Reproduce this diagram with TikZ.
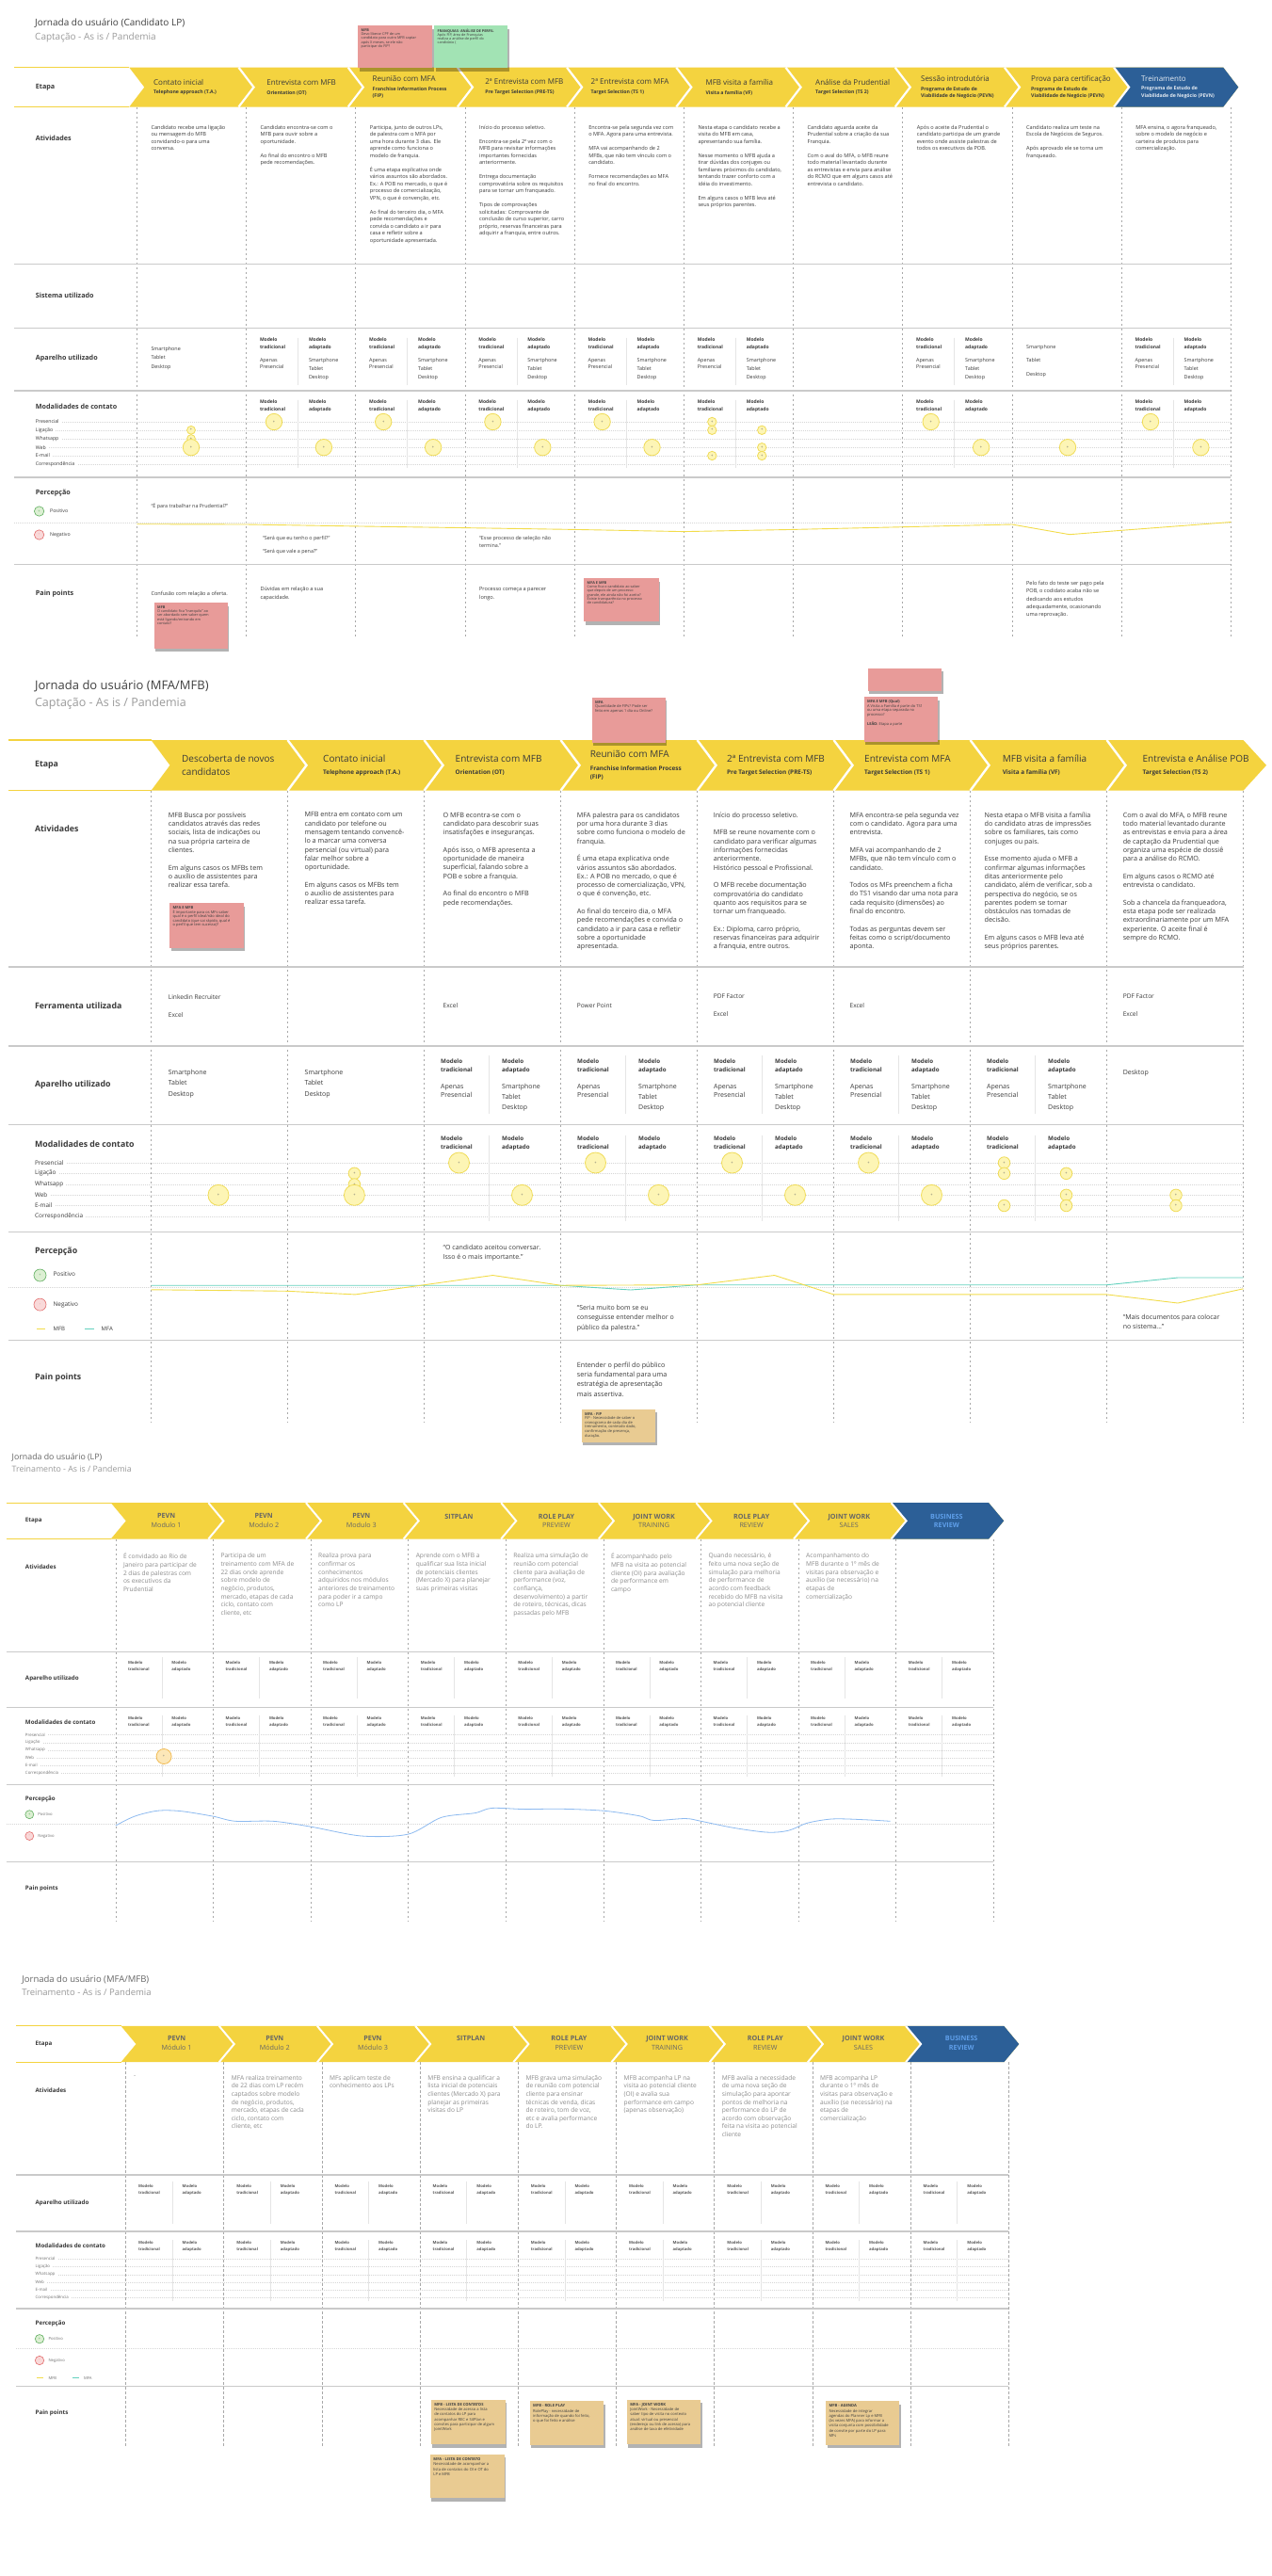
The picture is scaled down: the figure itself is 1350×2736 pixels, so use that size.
\documentclass[tikz,border=0pt]{standalone}
\usepackage{fontspec}
\setmainfont{Open Sans}
\usetikzlibrary{shadows}
\newcommand{\fsz}[2]{\fontsize{#1}{#2}\selectfont}
\definecolor{ybd}{HTML}{F4D33F}
\definecolor{bbd}{HTML}{2C5F97}
\definecolor{rowc}{HTML}{CACACA}
\definecolor{divc}{HTML}{A8A8A8}
\definecolor{txd}{HTML}{3A3A3A}
\definecolor{txg}{HTML}{8C8C8C}
\definecolor{ttg}{HTML}{9B9B9B}
\definecolor{chg}{HTML}{666666}
\definecolor{cfill}{HTML}{FDF5B5}
\definecolor{cdraw}{HTML}{F0DC58}
\definecolor{pinkn}{HTML}{E89B99}
\definecolor{greenn}{HTML}{A2E3B4}
\definecolor{tann}{HTML}{E9CB92}
\definecolor{tealc}{HTML}{63D1BE}
\definecolor{ylc}{HTML}{F2DC4A}
\definecolor{bluec}{HTML}{8DBAF0}
\definecolor{posf}{HTML}{DCEFD3}
\definecolor{posd}{HTML}{5FAE5F}
\definecolor{negf}{HTML}{F9D9D9}
\definecolor{negd}{HTML}{E26B6B}
\definecolor{ltblue}{HTML}{5F9FEA}
\definecolor{orf}{HTML}{FCE7B8}
\definecolor{ord}{HTML}{F2BC55}
\tikzset{
  txt/.style={anchor=north west, inner sep=0pt, align=left, text=txd},
  lbl/.style={anchor=west, inner sep=0pt, text=txd},
  rowline/.style={draw=rowc, line width=1.3pt},
  divline/.style={draw=divc, line width=0.6pt, dash pattern=on 2.5pt off 2.5pt},
  subsep/.style={draw=black!10, line width=0.5pt},
  dotline/.style={draw=black!16, line width=0.4pt, dash pattern=on 1pt off 1pt},
  circ/.style={circle, draw=cdraw, fill=cfill, line width=0.8pt, inner sep=0pt, text=black!60, font=\fsz{4}{4}},
  posi/.style={circle, draw=posd, fill=posf, line width=0.6pt, inner sep=0pt, text=posd, font=\fsz{4}{4}},
  negi/.style={circle, draw=negd, fill=negf, line width=0.6pt, inner sep=0pt, text=negd, font=\fsz{4}{4}},
  notebox/.style={anchor=north west, inner sep=0pt, drop shadow={shadow xshift=1.5pt, shadow yshift=-3.5pt, opacity=0.3, fill=black}},
  notetext/.style={anchor=north west, inner sep=0pt, align=left, text=black!75},
}
\newcommand{\snote}[8]{%
  \node[notebox, fill=#5, minimum width=#3pt, minimum height=#4pt] (#6) at (#1,#2) {};
  \node[notetext, font=#7] (#6t) at ([xshift=3.5pt,yshift=-3.5pt]#6.north west) {#8};}
\begin{document}
\begin{tikzpicture}[x=1pt,y=-1pt]
\path[use as bounding box, fill=white] (0,0) rectangle (1350,2736);

%% ================= SECTION 1 =================
\node[lbl, font=\fsz{10}{12}, text=black!75] (s1t) at (37,25) {Jornada do usuário (Candidato LP)};
\node[lbl, font=\fsz{10}{12}, text=ttg] (s1st) at (37,39.6) {Captação - As is / Pandemia};
\foreach \d in {145.3,261.5,377.7,493.9,610.1,726.3,842.5,958.7,1074.9,1191.1,1307.3}
  \draw[divline] (\d,113.5) -- (\d,675.5);
\foreach \y in {280.3,348.5,415,507,599.3}
  \draw[rowline] (15.2,\y) -- (1307.3,\y);
\draw[dotline] (15.2,555.3) -- (1307.3,555.3);
% band
\draw[ybd, line width=1.2pt] (15.2,71.7) -- (137.3,71.7) (15.2,113.5) -- (137.3,113.5);
\fill[ybd] (137.3,71.7) -- (1299.3,71.7) -- (1315.3,92.6) -- (1299.3,113.5) -- (137.3,113.5) -- (153.3,92.6) -- cycle;
\fill[bbd] (1183.1,71.7) -- (1299.3,71.7) -- (1315.3,92.6) -- (1299.3,113.5) -- (1183.1,113.5) -- (1199.1,92.6) -- cycle;
\foreach \d in {261.5,377.7,493.9,610.1,726.3,842.5,958.7,1074.9,1191.1}
  \draw[white, line width=2.2pt] ({\d-8},71.7) -- ({\d+8},92.6) -- ({\d-8},113.5);
% row labels
\foreach \y/\t [count=\i] in {92.6/Etapa,146.5/Atividades,313.7/Sistema utilizado,381/Aparelho utilizado,431.7/Modalidades de contato,523.6/Percepção,630.6/Pain points}
  \node[lbl, font=\fsz{7.2}{8}\bfseries] (s1r\i) at (37.7,\y) {\t};
\foreach \y/\t [count=\i] in {448/Presencial,456.8/Ligação,466/Whatsapp,475.2/Web,484/E-mail,493.3/Correspondência}{
  \node[lbl, font=\fsz{5.2}{6}] (s1m\i) at (37.7,\y) {\t};
  \draw[dotline] ([xshift=3pt]s1m\i.east) -- (1307.3,\y);
}
\node[posi, minimum size=10.4pt] (s1pi) at (41.6,543) {+};
\node[lbl, font=\fsz{5.2}{6}] (s1pt) at (53,542.6) {Positivo};
\node[negi, minimum size=10.4pt] (s1ni) at (41.6,568) {-};
\node[lbl, font=\fsz{5.2}{6}] (s1nt) at (53,568) {Negativo};
% chevron labels
\node[lbl, align=left, font=\fsz{5.2}{9.9}\bfseries] (s1h1) at (163,92.6) {{\fsz{8}{9.9}\mdseries Contato inicial}\\Telephone approach (T.A.)};
\node[lbl, align=left, font=\fsz{5.2}{9.9}\bfseries] (s1h2) at (283.2,92.6) {{\fsz{8}{9.9}\mdseries Entrevista com MFB}\\Orientation (OT)};
\node[lbl, align=left, font=\fsz{5.2}{9.9}\bfseries] (s1h3) at (395.5,92.6) {{\fsz{8}{9.9}\mdseries Reunião com MFA}\\Franchise Information Process\\[-2.1pt](FIP)};
\node[lbl, align=left, font=\fsz{5.2}{9.9}\bfseries] (s1h4) at (515.2,92.6) {{\fsz{8}{9.9}\mdseries 2ª Entrevista com MFB}\\Pre Target Selection (PRE-TS)};
\node[lbl, align=left, font=\fsz{5.2}{9.9}\bfseries] (s1h5) at (627.5,92.6) {{\fsz{8}{9.9}\mdseries 2ª Entrevista com MFA}\\Target Selection (TS 1)};
\node[lbl, align=left, font=\fsz{5.2}{9.9}\bfseries] (s1h6) at (749.4,92.6) {{\fsz{8}{9.9}\mdseries MFB visita a família}\\Visita a família (VF)};
\node[lbl, align=left, font=\fsz{5.2}{9.9}\bfseries] (s1h7) at (866,92.6) {{\fsz{8}{9.9}\mdseries Análise da Prudential}\\Target Selection (TS 2)};
\node[lbl, align=left, font=\fsz{5.2}{9.9}\bfseries] (s1h8) at (977.9,92.6) {{\fsz{8}{9.9}\mdseries Sessão introdutória}\\Programa de Estudo de\\[-2.1pt]Viabilidade de Negócio (PEVN)};
\node[lbl, align=left, font=\fsz{5.2}{9.9}\bfseries] (s1h9) at (1095,92.6) {{\fsz{8}{9.9}\mdseries Prova para certificação}\\Programa de Estudo de\\[-2.1pt]Viabilidade de Negócio (PEVN)};
\node[lbl, align=left, font=\fsz{5.2}{9.9}\bfseries, text=white!88!bbd] (s1h10) at (1212,92.6) {{\fsz{8}{9.9}\mdseries Treinamento}\\Programa de Estudo de\\[-2.1pt]Viabilidade de Negócio (PEVN)};
% activities
\node[txt, font=\fsz{5.6}{7.5}] (s1a1) at (160.3,132.7) {Candidato recebe uma ligação\\ou mensagem do MFB\\convidando-o para uma\\conversa.};
\node[txt, font=\fsz{5.6}{7.5}] (s1a2) at (276.5,132.7) {Candidato encontra-se com o\\MFB para ouvir sobre a\\oportunidade.\\[7.5pt]Ao final do encontro o MFB\\pede recomendações.};
\node[txt, font=\fsz{5.6}{7.5}] (s1a3) at (392.7,132.7) {Participa, junto de outros LPs,\\de palestra com o MFA por\\uma hora durante 3 dias. Ele\\aprende como funciona o\\modelo de franquia.\\[7.5pt]É uma etapa explicativa onde\\vários assuntos são abordados.\\Ex.: A POB no mercado, o que é\\processo de comercialização,\\VPN, o que é convenção, etc.\\[7.5pt]Ao final do terceiro dia, o MFA\\pede recomendações e\\convida o candidato a ir para\\casa e refletir sobre a\\oportunidade apresentada.};
\node[txt, font=\fsz{5.6}{7.5}] (s1a4) at (508.9,132.7) {Início do processo seletivo.\\[7.5pt]Encontra-se pela 2ª vez com o\\MFB para revisitar informações\\importantes fornecidas\\anteriormente.\\[7.5pt]Entrega documentação\\comprovatória sobre os requisitos\\para se tornar um franqueado.\\[7.5pt]Tipos de comprovações\\solicitadas: Comprovante de\\conclusão de curso superior, carro\\próprio, reservas financeiras para\\adquirir a franquia, entre outros.};
\node[txt, font=\fsz{5.6}{7.5}] (s1a5) at (625.1,132.7) {Encontra-se pela segunda vez com\\o MFA. Agora para uma entrevista.\\[7.5pt]MFA vai acompanhando de 2\\MFBs, que não tem vínculo com o\\candidato.\\[7.5pt]Fornece recomendações ao MFA\\no final do encontro.};
\node[txt, font=\fsz{5.6}{7.5}] (s1a6) at (741.3,132.7) {Nesta etapa o candidato recebe a\\visita do MFB em casa,\\apresentando sua família.\\[7.5pt]Nesse momento o MFB ajuda a\\tirar dúvidas dos conjuges ou\\familiares próximos do candidato,\\tentando trazer conforto com a\\idéia do investimento.\\[7.5pt]Em alguns casos o MFB leva até\\seus próprios parentes.};
\node[txt, font=\fsz{5.6}{7.5}] (s1a7) at (857.5,132.7) {Candidato aguarda aceite da\\Prudential sobre a criação da sua\\Franquia.\\[7.5pt]Com o aval do MFA, o MFB reune\\todo material levantado durante\\as entrevistas e envia para análise\\do RCMO que em alguns casos até\\entrevista o candidato.};
\node[txt, font=\fsz{5.6}{7.5}] (s1a8) at (973.7,132.7) {Após o aceite da Prudential o\\candidato participa de um grande\\evento onde assiste palestras de\\todos os executivos da POB.};
\node[txt, font=\fsz{5.6}{7.5}] (s1a9) at (1089.9,132.7) {Candidato realiza um teste na\\Escola de Negócios de Seguros.\\[7.5pt]Após aprovado ele se torna um\\franqueado.};
\node[txt, font=\fsz{5.6}{7.5}] (s1a10) at (1206.1,132.7) {MFA ensina, o agora franqueado,\\sobre o modelo de negócio e\\carteira de produtos para\\comercialização.};
% devices
\node[txt, font=\fsz{5.4}{9.2}] (s1d0) at (160.3,368.3) {Smartphone\\Tablet\\Desktop};
\node[txt, font=\fsz{5.4}{14.3}] (s1d8) at (1089.9,366.1) {Smartphone\\Tablet\\Desktop};
\foreach \d [count=\i] in {261.5,377.7,493.9,610.1,726.3,958.7,1191.1}{
  \draw[subsep] ({\d+55},358.6) -- ({\d+55},409);
  \draw[subsep] ({\d+55},424.6) -- ({\d+55},497);
  \node[txt, font=\fsz{5}{7.7}\bfseries] (s1at\i) at ({\d+14.3},358.5) {Modelo\\tradicional};
  \node[txt, font=\fsz{5}{7.7}\bfseries] (s1aa\i) at ({\d+66.3},358.5) {Modelo\\adaptado};
  \node[txt, font=\fsz{5.4}{7.5}] (s1atc\i) at ({\d+14.3},380.3) {Apenas\\Presencial};
  \node[txt, font=\fsz{5.4}{9.1}] (s1aac\i) at ({\d+66.3},380.3) {Smartphone\\Tablet\\Desktop};
  \node[txt, font=\fsz{5}{7.7}\bfseries] (s1mt\i) at ({\d+14.3},424.5) {Modelo\\tradicional};
  \node[txt, font=\fsz{5}{7.7}\bfseries] (s1ma\i) at ({\d+66.3},424.5) {Modelo\\adaptado};
}
% contact circles
\node[circ, minimum size=8.8pt] (s1c1) at (203,456.8) {+};
\node[circ, minimum size=8.8pt] (s1c2) at (203,466) {+};
\node[circ, minimum size=17.4pt] (s1c3) at (203,475.2) {+};
\foreach \xt/\xa [count=\i] in {291/343.9,407.2/460.1,523.4/576.3,639.6/692.5,988.7/1042.1,1222/1275.4}{
  \node[circ, minimum size=17.4pt] (s1ct\i) at (\xt,448) {+};
  \node[circ, minimum size=17.4pt] (s1ca\i) at (\xa,475.2) {+};
}
\node[circ, minimum size=9.4pt] (s1v1) at (756.3,448) {+};
\node[circ, minimum size=9.4pt] (s1v2) at (756.3,456.8) {+};
\node[circ, minimum size=9.4pt] (s1v3) at (756.3,484) {+};
\node[circ, minimum size=9.4pt] (s1v4) at (809.2,456.8) {+};
\node[circ, minimum size=9.4pt] (s1v5) at (809.2,475.2) {+};
\node[circ, minimum size=9.4pt] (s1v6) at (809.2,484) {+};
\node[circ, minimum size=17.4pt] (s1p9) at (1134,475.2) {+};
% perception
\draw[ylc, line width=0.9pt] (145.3,556.7) -- (261.5,557) -- (377.7,558.9) -- (493.9,560.6) -- (610.1,562.4) -- (726.3,564.6) -- (842.5,562.4) -- (958.7,559.7) -- (1074.9,557) -- (1136,567.7) -- (1191.1,563.3) -- (1307.3,554.5);
\node[lbl, font=\fsz{5.4}{8}] (s1q1) at (160.3,538) {“É para trabalhar na Prudential?”};
\node[lbl, font=\fsz{5.4}{8}] (s1q2) at (278.8,572) {“Será que eu tenho o perfil?”};
\node[lbl, font=\fsz{5.4}{8}] (s1q3) at (278.8,586) {“Será que vale a pena?”};
\node[txt, font=\fsz{5.4}{8}] (s1q4) at (508.9,569.3) {“Esse processo de seleção não\\termina.”};
% pain points
\node[lbl, font=\fsz{5.6}{8.8}] (s1pp1) at (160.3,630.6) {Confusão com relação a oferta.};
\node[txt, font=\fsz{5.6}{8.8}] (s1pp2) at (276.5,623.4) {Dúvidas em relação a sua\\capacidade.};
\node[txt, font=\fsz{5.6}{8.8}] (s1pp4) at (508.9,623.4) {Processo começa a parecer\\longo.};
\node[txt, font=\fsz{5.6}{8.4}] (s1pp9) at (1089.9,616.8) {Pelo fato do teste ser pago pela\\POB, o codidato acaba não se\\dedicando aos estudos\\adequadamente, ocasionando\\uma reprovação.};
% notes
\snote{380}{27}{79}{45}{pinkn}{n11}{\fsz{3.8}{4.2}}{\textbf{MFB}\\Devo liberar CPF de um\\candidato para outro MFB captar\\após X meses, se ele não\\participar do FIP?}
\snote{461}{27}{78}{45}{greenn}{n12}{\fsz{3.8}{4.2}}{\textbf{FRANQUIAS- ANÁLISE DE PERFIL}\\Após FIP, área de Franquias\\realiza a análise de perfil do\\candidato (}
\snote{163.5}{640}{78}{48.7}{pinkn}{n13}{\fsz{3.8}{4.2}}{\textbf{MFB}\\O candidato fica "tranquilo" ao\\ser abordado sem saber quem\\está ligando/entrando em\\contato?}
\snote{620}{614}{79.5}{46}{pinkn}{n14}{\fsz{3.8}{4.2}}{\textbf{MFA E MFB}\\Como fica o candidato ao saber\\que depois de um processo\\grande, ele ainda não foi aceito?\\Existe transparência no processo\\de candidatura?}

%% ================= SECTION 2 =================
\node[lbl, font=\fsz{13}{15}, text=black!75] (s2t) at (36.9,728.5) {Jornada do usuário (MFA/MFB)};
\node[lbl, font=\fsz{12.5}{15}, text=ttg] (s2st) at (36.9,746.8) {Captação - As is / Pandemia};
\foreach \d in {160.5,305.5,450.5,595.5,740.5,885.5,1030.5,1175.5,1320.5}
  \draw[divline] (\d,839.7) -- (\d,1511);
\foreach \y in {1027,1111,1194.3,1308.6,1423.4}
  \draw[rowline] (8.7,\y) -- (1320.5,\y);
\draw[dotline] (8.7,1367.2) -- (1320.5,1367.2);
\draw[ybd, line width=1.2pt] (8.7,786) -- (160.5,786) (8.7,839.7) -- (160.5,839.7);
\fill[ybd] (160.5,786) -- (1320.5,786) -- (1345,812.8) -- (1320.5,839.7) -- (160.5,839.7) -- (180.5,812.8) -- cycle;
\foreach \d in {305.5,450.5,595.5,740.5,885.5,1030.5,1175.5}
  \draw[white, line width=2.4pt] (\d,786) -- ({\d+20},812.8) -- (\d,839.7);
\foreach \y/\t [count=\i] in {812.7/Etapa,880.5/Atividades,1068.3/Ferramenta utilizada,1152/Aparelho utilizado,1215.2/Modalidades de contato,1329.5/Percepção,1463.2/Pain points}
  \node[lbl, font=\fsz{8.8}{10}\bfseries] (s2r\i) at (36.9,\y) {\t};
\foreach \y/\t [count=\i] in {1235/Presencial,1246.3/Ligação,1258/Whatsapp,1269.3/Web,1280.5/E-mail,1291.7/Correspondência}{
  \node[lbl, font=\fsz{6.4}{7}] (s2m\i) at (36.9,\y) {\t};
  \draw[dotline] ([xshift=3pt]s2m\i.east) -- (1320.5,\y);
}
\node[posi, minimum size=13pt] (s2pi) at (42.5,1354.5) {+};
\node[lbl, font=\fsz{6.4}{7}] (s2pt) at (56.4,1353.5) {Positivo};
\node[negi, minimum size=13pt] (s2ni) at (42.5,1385.6) {-};
\node[lbl, font=\fsz{6.4}{7}] (s2nt) at (56.4,1385.6) {Negativo};
\draw[ylc, line width=1pt] (39,1411) -- (47.7,1411);
\node[lbl, font=\fsz{6}{7}] (s2l1) at (56.4,1411) {MFB};
\draw[tealc, line width=1pt] (90,1411) -- (99.7,1411);
\node[lbl, font=\fsz{6}{7}] (s2l2) at (107.5,1411) {MFA};
% chevron labels
\node[lbl, align=left, font=\fsz{10}{13.3}] (s2h1) at (193,812.8) {Descoberta de novos\\candidatos};
\node[lbl, align=left, font=\fsz{6.4}{13.3}\bfseries] (s2h2) at (343,812.8) {{\fsz{10}{13.3}\mdseries Contato inicial}\\Telephone approach (T.A.)};
\node[lbl, align=left, font=\fsz{6.4}{13.3}\bfseries] (s2h3) at (483.5,812.8) {{\fsz{10}{13.3}\mdseries Entrevista com MFB}\\Orientation (OT)};
\node[lbl, align=left, font=\fsz{6.4}{13.3}\bfseries] (s2h4) at (626.6,812.8) {{\fsz{10}{13.3}\mdseries Reunião com MFA}\\Franchise Information Process\\[-4.1pt](FIP)};
\node[lbl, align=left, font=\fsz{6.4}{13.3}\bfseries] (s2h5) at (772,812.8) {{\fsz{10}{13.3}\mdseries 2ª Entrevista com MFB}\\Pre Target Selection (PRE-TS)};
\node[lbl, align=left, font=\fsz{6.4}{13.3}\bfseries] (s2h6) at (918,812.8) {{\fsz{10}{13.3}\mdseries Entrevista com MFA}\\Target Selection (TS 1)};
\node[lbl, align=left, font=\fsz{6.4}{13.3}\bfseries] (s2h7) at (1064.6,812.8) {{\fsz{10}{13.3}\mdseries MFB visita a família}\\Visita a família (VF)};
\node[lbl, align=left, font=\fsz{6.4}{13.3}\bfseries] (s2h8) at (1213.4,812.8) {{\fsz{10}{13.3}\mdseries Entrevista e Análise POB}\\Target Selection (TS 2)};
% activities
\node[txt, font=\fsz{7.2}{9.3}] (s2a1) at (178.7,862.6) {MFB Busca por possíveis\\candidatos através das redes\\sociais, lista de indicações ou\\na sua própria carteira de\\clientes.\\[9.3pt]Em alguns casos os MFBs tem\\o auxílio de assistentes para\\realizar essa tarefa.};
\node[txt, font=\fsz{7.2}{9.3}] (s2a2) at (323.5,862.6) {MFB entra em contato com um\\candidato por telefone ou\\mensagem tentando convencê-\\lo a marcar uma conversa\\persencial (ou virtual) para\\falar melhor sobre a\\oportunidade.\\[9.3pt]Em alguns casos os MFBs tem\\o auxílio de assistentes para\\realizar essa tarefa.};
\node[txt, font=\fsz{7.2}{9.3}] (s2a3) at (470.5,862.6) {O MFB econtra-se com o\\candidato para descobrir suas\\insatisfações e inseguranças.\\[9.3pt]Após isso, o MFB apresenta a\\oportunidade de maneira\\superficial, falando sobre a\\POB e sobre a franquia.\\[9.3pt]Ao final do encontro o MFB\\pede recomendações.};
\node[txt, font=\fsz{7.2}{9.3}] (s2a4) at (612.7,862.6) {MFA palestra para os candidatos\\por uma hora durante 3 dias\\sobre como funciona o modelo de\\franquia.\\[9.3pt]É uma etapa explicativa onde\\vários assuntos são abordados.\\Ex.: A POB no mercado, o que é\\processo de comercialização, VPN,\\o que é convenção, etc.\\[9.3pt]Ao final do terceiro dia, o MFA\\pede recomendações e convida o\\candidato a ir para casa e refletir\\sobre a oportunidade\\apresentada.};
\node[txt, font=\fsz{7.2}{9.3}] (s2a5) at (757.6,862.6) {Início do processo seletivo.\\[9.3pt]MFB se reune novamente com o\\candidato para verificar algumas\\informações fornecidas\\anteriormente.\\Histórico pessoal e Profissional.\\[9.3pt]O MFB recebe documentação\\comprovatória do candidato\\quanto aos requisitos para se\\tornar um franqueado.\\[9.3pt]Ex.: Diploma, carro próprio,\\reservas financeiras para adquirir\\a franquia, entre outros.};
\node[txt, font=\fsz{7.2}{9.3}] (s2a6) at (902.4,862.6) {MFA encontra-se pela segunda vez\\com o candidato. Agora para uma\\entrevista.\\[9.3pt]MFA vai acompanhando de 2\\MFBs, que não tem vínculo com o\\candidato.\\[9.3pt]Todos os MFs preenchem a ficha\\do TS1 visando dar uma nota para\\cada requisito (dimensões) ao\\final do encontro.\\[9.3pt]Todas as perguntas devem ser\\feitas como o script/documento\\aponta.};
\node[txt, font=\fsz{7.2}{9.3}] (s2a7) at (1045.5,862.6) {Nesta etapa o MFB visita a família\\do candidato atras de impressões\\sobre os familiares, tais como\\conjuges ou pais.\\[9.3pt]Esse momento ajuda o MFB a\\confirmar algumas informações\\ditas anteriormente pelo\\candidato, além de verificar, sob a\\perspectiva do negócio, se os\\parentes podem se tornar\\obstáculos nas tomadas de\\decisão.\\[9.3pt]Em alguns casos o MFB leva até\\seus próprios parentes.};
\node[txt, font=\fsz{7.2}{9.3}] (s2a8) at (1192.6,862.6) {Com o aval do MFA, o MFB reune\\todo material levantado durante\\as entrevistas e envia para a área\\de captação da Prudential que\\organiza uma espécie de dossiê\\para a análise do RCMO.\\[9.3pt]Em alguns casos o RCMO até\\entrevista o candidato.\\[9.3pt]Sob a chancela da franqueadora,\\esta etapa pode ser realizada\\extraordinariamente por um MFA\\experiente. O aceite final é\\sempre do RCMO.};
% tools
\node[lbl, font=\fsz{6.6}{8}] (s2f1) at (178.7,1059) {Linkedin Recruiter};
\node[lbl, font=\fsz{6.6}{8}] (s2f2) at (178.7,1078.5) {Excel};
\node[lbl, font=\fsz{6.6}{8}] (s2f3) at (470.5,1068.3) {Excel};
\node[lbl, font=\fsz{6.6}{8}] (s2f4) at (612.7,1068.3) {Power Point};
\node[lbl, font=\fsz{6.6}{8}] (s2f5) at (757.6,1058) {PDF Factor};
\node[lbl, font=\fsz{6.6}{8}] (s2f6) at (757.6,1077.5) {Excel};
\node[lbl, font=\fsz{6.6}{8}] (s2f7) at (902.4,1068.3) {Excel};
\node[lbl, font=\fsz{6.6}{8}] (s2f8) at (1192.6,1058) {PDF Factor};
\node[lbl, font=\fsz{6.6}{8}] (s2f9) at (1192.6,1077.5) {Excel};
% devices
\node[txt, font=\fsz{7}{11.2}] (s2d1) at (178.7,1136.2) {Smartphone\\Tablet\\Desktop};
\node[txt, font=\fsz{7}{11.2}] (s2d2) at (323.5,1136.2) {Smartphone\\Tablet\\Desktop};
\node[lbl, font=\fsz{7}{11.2}] (s2d8) at (1192.6,1139.7) {Desktop};
\foreach \d [count=\i] in {450.5,595.5,740.5,885.5,1030.5}{
  \draw[subsep] ({\d+69},1121) -- ({\d+69},1182.6);
  \draw[subsep] ({\d+69},1205.5) -- ({\d+69},1297);
  \node[txt, font=\fsz{6.2}{9.2}\bfseries] (s2at\i) at ({\d+17.5},1124.3) {Modelo\\tradicional};
  \node[txt, font=\fsz{6.2}{9.2}\bfseries] (s2aa\i) at ({\d+82.5},1124.3) {Modelo\\adaptado};
  \node[txt, font=\fsz{7}{9.2}] (s2atc\i) at ({\d+17.5},1151) {Apenas\\Presencial};
  \node[txt, font=\fsz{7}{11.2}] (s2aac\i) at ({\d+82.5},1151) {Smartphone\\Tablet\\Desktop};
  \node[txt, font=\fsz{6.2}{9.2}\bfseries] (s2mt\i) at ({\d+17.5},1206.5) {Modelo\\tradicional};
  \node[txt, font=\fsz{6.2}{9.2}\bfseries] (s2ma\i) at ({\d+82.5},1206.5) {Modelo\\adaptado};
}
% circles
\node[circ, minimum size=22pt] (s2c1) at (232,1269.3) {+};
\node[circ, minimum size=12.5pt] (s2c2) at (376.4,1246.3) {+};
\node[circ, minimum size=12.5pt] (s2c3) at (376.4,1258) {+};
\node[circ, minimum size=22pt] (s2c4) at (376.4,1269.3) {+};
\foreach \d [count=\i] in {450.5,595.5,740.5,885.5}{
  \node[circ, minimum size=22pt] (s2ct\i) at ({\d+37},1235) {+};
  \node[circ, minimum size=22pt] (s2ca\i) at ({\d+104},1269.3) {+};
}
\node[circ, minimum size=12.5pt] (s2v1) at (1066.5,1235) {+};
\node[circ, minimum size=12.5pt] (s2v2) at (1066.5,1246.3) {+};
\node[circ, minimum size=12.5pt] (s2v3) at (1066.5,1280.5) {+};
\node[circ, minimum size=12.5pt] (s2v4) at (1132.5,1246.3) {+};
\node[circ, minimum size=12.5pt] (s2v5) at (1132.5,1269.3) {+};
\node[circ, minimum size=12.5pt] (s2v6) at (1132.5,1280.5) {+};
\node[circ, minimum size=12.5pt] (s2v7) at (1249,1269.3) {+};
\node[circ, minimum size=12.5pt] (s2v8) at (1249,1280.5) {+};
% perception
\draw[tealc, line width=0.9pt] (160.5,1365.2) -- (595.5,1365.2) -- (670,1370) -- (740.5,1364.7) -- (1175.5,1364.7) -- (1251,1357) -- (1320.5,1357);
\draw[ylc, line width=0.9pt] (160.5,1369.8) -- (305.5,1371.3) -- (377.3,1374.9) -- (450.5,1364.7) -- (523.4,1354.5) -- (595.5,1365.2) -- (740.5,1364.7) -- (822.6,1354.5) -- (885.5,1374.9) -- (1175.5,1374.9) -- (1251,1384) -- (1320.5,1368.8);
\node[txt, font=\fsz{7}{10.2}] (s2q1) at (470.5,1321.9) {“O candidato aceitou conversar.\\Isso é o mais importante.”};
\node[txt, font=\fsz{7}{10.4}] (s2q2) at (612.7,1385.7) {“Seria muito bom se eu\\conseguisse entender melhor o\\público da palestra.”};
\node[txt, font=\fsz{7}{10.4}] (s2q3) at (1192.6,1395.9) {“Mais documentos para colocar\\no sistema...”};
\node[txt, font=\fsz{7.2}{10.3}] (s2pp4) at (612.7,1446.4) {Entender o perfil do público\\seria fundamental para uma\\estratégia de apresentação\\mais assertiva.};
% notes
\snote{628.3}{740.7}{78.4}{47.6}{pinkn}{n21}{\fsz{4}{4.6}}{\textbf{MFA}\\Quantidade de FIPs? Pode ser\\feito em apenas 1 dia ou Online?}
\snote{921.7}{709.3}{78.3}{24}{pinkn}{n22}{\fsz{4}{4.6}}{}
\snote{917.3}{740}{78.7}{47.3}{pinkn}{n23}{\fsz{4}{4.6}}{\textbf{MFA E MFB (Qual)}\\A Visita a Família é parte do TS1\\ou uma etapa separada no\\processo?\\[4.6pt]\textbf{LEÃO:} Etapa a parte}
\snote{180}{959}{78.5}{47.5}{pinkn}{n24}{\fsz{4}{4.6}}{\textbf{MFA E MFB}\\É importante para os MFs saber\\qual é o perfil ideal/não ideal do\\candidato (que sai rápido, qual é\\o perfil que tem sucesso)?}
\snote{617.4}{1496.5}{78.6}{35.2}{tann}{n25}{\fsz{4}{4.6}}{\textbf{MFA - FIP}\\FIP - Necessidade de saber o\\cronograma de cada dia de\\treinamento, conteúdo dado,\\confirmação de presença,\\duração.}

%% ================= SECTION 3 =================
\node[lbl, font=\fsz{8.8}{10}, text=black!60] (s3t) at (12.5,1547.5) {Jornada do usuário (LP)};
\node[lbl, font=\fsz{8.8}{10}, text=black!40] (s3st) at (12.5,1560.6) {Treinamento - As is / Pandemia};
\foreach \d in {122.8,226.4,330,433.6,537.2,640.8,744.4,848,951.6,1055.2}
  \draw[divline] (\d,1634.5) -- (\d,2041);
\foreach \y in {1754.4,1813.7,1895.5,1977.7}
  \draw[rowline] (6.7,\y) -- (1055.2,\y);
\draw[dotline] (6.7,1937.4) -- (1055.2,1937.4);
\draw[ybd, line width=1.2pt] (6.7,1596.2) -- (117.8,1596.2) (6.7,1634.5) -- (117.8,1634.5);
\fill[ybd] (117.8,1596.2) -- (1050.2,1596.2) -- (1066.2,1615.3) -- (1050.2,1634.5) -- (117.8,1634.5) -- (133.8,1615.3) -- cycle;
\fill[bbd] (946.6,1596.2) -- (1050.2,1596.2) -- (1066.2,1615.3) -- (1050.2,1634.5) -- (946.6,1634.5) -- (962.6,1615.3) -- cycle;
\foreach \d in {226.4,330,433.6,537.2,640.8,744.4,848,951.6}
  \draw[white, line width=2pt] ({\d-5},1596.2) -- ({\d+11},1615.3) -- ({\d-5},1634.5);
\foreach \y/\t [count=\i] in {1615.2/Etapa,1664.2/Atividades,1783.2/Aparelho utilizado,1828.7/Modalidades de contato,1910.5/Percepção,2005.4/Pain points}
  \node[lbl, font=\fsz{6.2}{7}\bfseries] (s3r\i) at (26.8,\y) {\t};
\foreach \y/\t [count=\i] in {1842.5/Presencial,1850.8/Ligação,1858.7/Whatsapp,1867/Web,1875/E-mail,1883.3/Correspondência}{
  \node[lbl, font=\fsz{4.4}{5}, text=black!55] (s3m\i) at (26.8,\y) {\t};
  \draw[dotline] ([xshift=3pt]s3m\i.east) -- (1055.2,\y);
}
\node[posi, minimum size=9pt] (s3pi) at (31.3,1927.2) {+};
\node[lbl, font=\fsz{4.2}{5}, text=black!55] (s3pt) at (40.2,1927.2) {Positivo};
\node[negi, minimum size=9pt] (s3ni) at (31.3,1950) {-};
\node[lbl, font=\fsz{4.2}{5}, text=black!55] (s3nt) at (40.2,1950) {Negativo};
\foreach \x/\a/\b [count=\i] in {176.6/PEVN/Modulo 1,280.2/PEVN/Modulo 2,383.8/PEVN/Modulo 3,487.4/SITPLAN/,591/ROLE PLAY/PREVIEW,694.6/JOINT WORK/TRAINING,798.2/ROLE PLAY/REVIEW,901.8/JOINT WORK/SALES}
  \node[anchor=north, align=center, inner sep=0pt, font=\fsz{7.2}{9.5}, text=chg] (s3h\i) at (\x,1607.6) {\textbf{\a}\\\b};
\node[anchor=north, align=center, inner sep=0pt, font=\fsz{7.2}{9.5}\bfseries, text=ltblue] (s3h9) at (1005.4,1607.6) {BUSINESS\\REVIEW};
\foreach \d [count=\i] in {122.8,226.4,330,433.6,537.2,640.8,744.4,848,951.6}{
  \draw[subsep] ({\d+49},1760) -- ({\d+49},1804);
  \draw[subsep] ({\d+49},1821.6) -- ({\d+49},1886.8);
  \node[txt, font=\fsz{4.2}{6.8}\bfseries, text=black!65] (s3at\i) at ({\d+13},1764.1) {Modelo\\tradicional};
  \node[txt, font=\fsz{4.2}{6.8}\bfseries, text=black!65] (s3aa\i) at ({\d+59.4},1764.1) {Modelo\\adaptado};
  \node[txt, font=\fsz{4.2}{6.8}\bfseries, text=black!65] (s3mt\i) at ({\d+13},1823.4) {Modelo\\tradicional};
  \node[txt, font=\fsz{4.2}{6.8}\bfseries, text=black!65] (s3ma\i) at ({\d+59.4},1823.4) {Modelo\\adaptado};
}
\node[circle, draw=ord, fill=orf, line width=0.8pt, inner sep=0pt, minimum size=16pt, font=\fsz{4}{4}, text=black!55] (s3c1) at (174.1,1865.5) {+};
\node[txt, font=\fsz{6.6}{8.7}, text=txg] (s3a1) at (130.8,1649.4) {É convidado ao Rio de\\Janeiro para participar de\\2 dias de palestras com\\os executivos da\\Prudential};
\node[txt, font=\fsz{6.6}{8.7}, text=txg] (s3a2) at (234.4,1649.4) {Participa de um\\treinamento com MFA de\\22 dias onde aprende\\sobre modelo de\\negócio, produtos,\\mercado, etapas de cada\\ciclo, contato com\\cliente, etc};
\node[txt, font=\fsz{6.6}{8.7}, text=txg] (s3a3) at (338,1649.4) {Realiza prova para\\confirmar os\\conhecimentos\\adquiridos nos módulos\\anteriores de treinamento\\para poder ir a campo\\como LP};
\node[txt, font=\fsz{6.6}{8.7}, text=txg] (s3a4) at (441.6,1649.4) {Aprende com o MFB a\\qualificar sua lista inicial\\de potenciais clientes\\(Mercado X) para planejar\\suas primeiras visitas};
\node[txt, font=\fsz{6.6}{8.7}, text=txg] (s3a5) at (545.2,1649.4) {Realiza uma simulação de\\reunião com potencial\\cliente para avaliação de\\performance (voz,\\confiança,\\desenvolvimento) a partir\\de roteiro, técnicas, dicas\\passadas pelo MFB};
\node[txt, font=\fsz{6.6}{8.7}, text=txg] (s3a6) at (648.8,1649.4) {É acompanhado pelo\\MFB na visita ao potencial\\cliente (OI) para avaliação\\de performance em\\campo};
\node[txt, font=\fsz{6.6}{8.7}, text=txg] (s3a7) at (752.4,1649.4) {Quando necessário, é\\feito uma nova seção de\\simulação para melhoria\\de performance de\\acordo com feedback\\recebido do MFB na visita\\ao potencial cliente};
\node[txt, font=\fsz{6.6}{8.7}, text=txg] (s3a8) at (856,1649.4) {Acompanhamento do\\MFB durante o 1º mês de\\visitas para observação e\\auxílio (se necessário) na\\etapas de\\comercialização};
\draw[bluec, line width=0.8pt] plot[smooth, tension=0.5] coordinates {(122.8,1939) (142.9,1929.1) (167.4,1923.2) (192,1923.6) (226.3,1929.1) (250,1934.3) (290.2,1934.3) (330.4,1940.2) (384,1950) (433.5,1948.1) (468.8,1930.3) (504.5,1925.6) (522.3,1920.4) (558,1921.6) (593.8,1921.2) (641,1923.2) (679,1928.7) (694.6,1933.5) (728,1931.5) (744.6,1934.3) (779.5,1941.4) (815.2,1946.1) (837.5,1944.2) (857.6,1936.2) (884.4,1931.9) (917.9,1932.7) (945.5,1934.3)};

%% ================= SECTION 4 =================
\node[lbl, font=\fsz{9.5}{11}, text=black!60] (s4t) at (23.2,2103.1) {Jornada do usuário (MFA/MFB)};
\node[lbl, font=\fsz{9.5}{11}, text=black!40] (s4st) at (23.2,2116) {Treinamento - As is / Pandemia};
\foreach \d in {133.5,237.7,341.9,446.1,550.3,654.5,758.7,862.9,967.1,1071.3}
  \draw[divline] (\d,2190.2) -- (\d,2598);
\foreach \y in {2310,2370,2451.9,2534.2}
  \draw[rowline] (17,\y) -- (1071.3,\y);
\draw[dotline] (17,2494.6) -- (1071.3,2494.6);
\draw[ybd, line width=1.2pt] (17,2151.8) -- (128.5,2151.8) (17,2190.2) -- (128.5,2190.2);
\fill[ybd] (128.5,2151.8) -- (1066.3,2151.8) -- (1082.3,2171) -- (1066.3,2190.2) -- (128.5,2190.2) -- (144.5,2171) -- cycle;
\fill[bbd] (962.1,2151.8) -- (1066.3,2151.8) -- (1082.3,2171) -- (1066.3,2190.2) -- (962.1,2190.2) -- (978.1,2171) -- cycle;
\foreach \d in {237.7,341.9,446.1,550.3,654.5,758.7,862.9,967.1}
  \draw[white, line width=2pt] ({\d-5},2151.8) -- ({\d+11},2171) -- ({\d-5},2190.2);
\foreach \y/\t [count=\i] in {2170.8/Etapa,2220/Atividades,2339.8/Aparelho utilizado,2385.5/Modalidades de contato,2467.4/Percepção,2563/Pain points}
  \node[lbl, font=\fsz{6.2}{7}\bfseries] (s4r\i) at (37.5,\y) {\t};
\foreach \y/\t [count=\i] in {2399.3/Presencial,2407.5/Ligação,2415.7/Whatsapp,2423.9/Web,2432/E-mail,2440.3/Correspondência}{
  \node[lbl, font=\fsz{4.4}{5}, text=black!55] (s4m\i) at (37.5,\y) {\t};
  \draw[dotline] ([xshift=3pt]s4m\i.east) -- (1071.3,\y);
}
\node[posi, minimum size=9.4pt] (s4pi) at (42,2484.2) {+};
\node[lbl, font=\fsz{4.2}{5}, text=black!55] (s4pt) at (51.3,2484.2) {Positivo};
\node[negi, minimum size=9.4pt] (s4ni) at (42,2507) {-};
\node[lbl, font=\fsz{4.2}{5}, text=black!55] (s4nt) at (51.3,2507) {Negativo};
\draw[ylc, line width=0.8pt] (39,2525.6) -- (46,2525.6);
\node[lbl, font=\fsz{4.2}{5}, text=black!55] (s4l1) at (51.3,2525.6) {MFB};
\draw[tealc, line width=0.8pt] (76.8,2525.6) -- (83.5,2525.6);
\node[lbl, font=\fsz{4.2}{5}, text=black!55] (s4l2) at (88.8,2525.6) {MFA};
\foreach \x/\a/\b [count=\i] in {187.6/PEVN/Módulo 1,291.8/PEVN/Módulo 2,396/PEVN/Módulo 3,500.2/SITPLAN/,604.4/ROLE PLAY/PREVIEW,708.6/JOINT WORK/TRAINING,812.8/ROLE PLAY/REVIEW,917/JOINT WORK/SALES}
  \node[anchor=north, align=center, inner sep=0pt, font=\fsz{7.2}{9.5}, text=chg] (s4h\i) at (\x,2162.4) {\textbf{\a}\\\b};
\node[anchor=north, align=center, inner sep=0pt, font=\fsz{7.2}{9.5}\bfseries, text=ltblue] (s4h9) at (1021.2,2162.4) {BUSINESS\\REVIEW};
\foreach \d [count=\i] in {133.5,237.7,341.9,446.1,550.3,654.5,758.7,862.9,967.1}{
  \draw[subsep] ({\d+49.5},2316.5) -- ({\d+49.5},2361.8);
  \draw[subsep] ({\d+49.5},2379) -- ({\d+49.5},2443.7);
  \node[txt, font=\fsz{4.2}{6.9}\bfseries, text=black!65] (s4at\i) at ({\d+13.4},2320.5) {Modelo\\tradicional};
  \node[txt, font=\fsz{4.2}{6.9}\bfseries, text=black!65] (s4aa\i) at ({\d+60},2320.5) {Modelo\\adaptado};
  \node[txt, font=\fsz{4.2}{6.9}\bfseries, text=black!65] (s4mt\i) at ({\d+13.4},2379.9) {Modelo\\tradicional};
  \node[txt, font=\fsz{4.2}{6.9}\bfseries, text=black!65] (s4ma\i) at ({\d+60},2379.9) {Modelo\\adaptado};
}
\node[txt, font=\fsz{6.6}{8.6}, text=txg] (s4a1) at (142,2204) {-};
\node[txt, font=\fsz{6.6}{8.6}, text=txg] (s4a2) at (245.7,2204) {MFA realiza treinamento\\de 22 dias com LP recém\\captados sobre modelo\\de negócio, produtos,\\mercado, etapas de cada\\ciclo, contato com\\cliente, etc};
\node[txt, font=\fsz{6.6}{8.6}, text=txg] (s4a3) at (349.9,2204) {MFs aplicam teste de\\conhecimento aos LPs};
\node[txt, font=\fsz{6.6}{8.6}, text=txg] (s4a4) at (454.1,2204) {MFB ensina a qualificar a\\lista inicial de potenciais\\clientes (Mercado X) para\\planejar as primeiras\\visitas do LP};
\node[txt, font=\fsz{6.6}{8.6}, text=txg] (s4a5) at (558.3,2204) {MFB grava uma simulação\\de reunião com potencial\\cliente para ensinar\\técnicas de venda, dicas\\de roteiro, tom de voz,\\etc e avalia performance\\do LP.};
\node[txt, font=\fsz{6.6}{8.6}, text=txg] (s4a6) at (662.5,2204) {MFB acompanha LP na\\visita ao potencial cliente\\(OI) e avalia sua\\performance em campo\\(apenas observação)};
\node[txt, font=\fsz{6.6}{8.6}, text=txg] (s4a7) at (766.7,2204) {MFB avalia a necessidade\\de uma nova seção de\\simulação para apontar\\pontos de melhoria na\\performance do LP de\\acordo com observação\\feita na visita ao potencial\\cliente};
\node[txt, font=\fsz{6.6}{8.6}, text=txg] (s4a8) at (870.9,2204) {MFB acompanha LP\\durante o 1º mês de\\visitas para observação e\\auxílio (se necessário) na\\etapas de\\comercialização};
% notes
\snote{457.6}{2548.5}{79}{47.5}{tann}{n41}{\fsz{4.1}{5.3}}{\textbf{MFB - LISTA DE CONTATOS}\\Necessidade de acesso a lista\\de contatos do LP para\\acompanhar REC e SitPlan e\\convites para participar de algum\\JointWork}
\snote{456.7}{2606.7}{78.6}{46.1}{tann}{n42}{\fsz{4.1}{5.3}}{\textbf{MFA - LISTA DE CONTATO}\\Necessidade de acompanhar a\\lista de contatos do OI e OT do\\LP e MFB}
\snote{562.5}{2550}{78.5}{46.7}{tann}{n43}{\fsz{4.1}{5.3}}{\textbf{MFB - ROLE PLAY}\\RolePlay - necessidade de\\informação de quando foi feito,\\o que foi feito e análise}
\snote{665.6}{2548.5}{78.2}{47.5}{tann}{n44}{\fsz{4.1}{5.3}}{\textbf{MFA - JOINT WORK}\\JointWork - Necessidade de\\saber tipo de visita no contexto\\atual: virtual ou presencial\\(endereço ou link de acesso) para\\análise de taxa de efetividade}
\snote{876.8}{2550}{78.2}{46.7}{tann}{n45}{\fsz{4.1}{5.3}}{\textbf{MFB - AGENDA}\\Necessidade de integrar\\agendas do Planner Lp e MFB\\(às vezes MFA) para informar a\\visita conjunta com possibilidade\\de convite por parte do LP para\\MFs}
\end{tikzpicture}
\end{document}
